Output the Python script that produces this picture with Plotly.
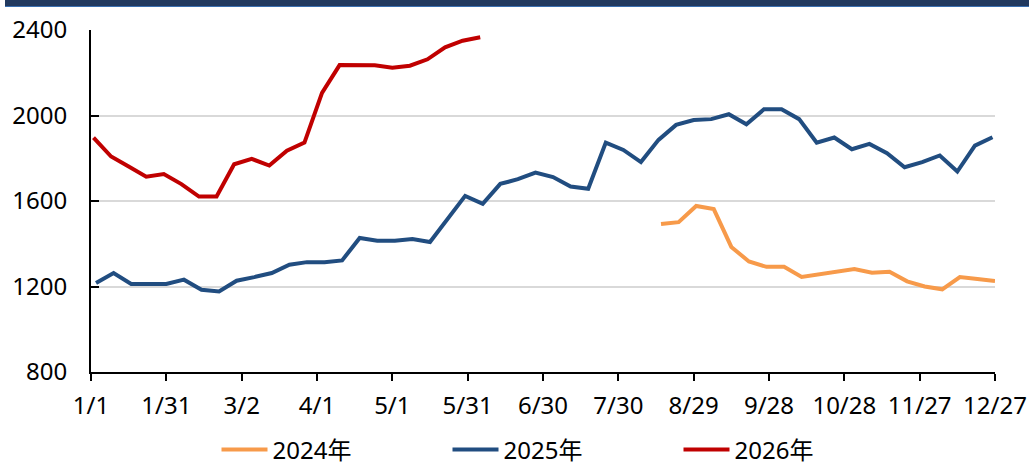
import pandas as pd
import plotly.graph_objects as go

# Weekly (Friday) observations, plotted on a shared Jan–Dec axis (2025 calendar)
start_2024 = "2025-08-16"
start_2025 = "2025-01-03"
start_2026 = "2025-01-02"

values_2024 = [1492, 1501, 1577, 1562, 1385, 1317, 1292, 1292, 1245, 1256,
               1268, 1282, 1264, 1269, 1224, 1200, 1187, 1244, 1235, 1226]

values_2025 = [1216, 1263, 1212, 1212, 1212, 1232, 1185, 1177, 1227, 1244,
               1263, 1302, 1314, 1314, 1322, 1427, 1414, 1414, 1422, 1408,
               1516, 1624, 1587, 1680, 1702, 1733, 1712, 1668, 1657, 1873,
               1839, 1782, 1886, 1956, 1979, 1983, 2006, 1959, 2029, 2029,
               1983, 1873, 1897, 1842, 1867, 1824, 1758, 1782, 1813, 1738,
               1859, 1898]

values_2026 = [1897, 1808, 1761, 1714, 1726, 1679, 1621, 1621, 1772, 1797,
               1766, 1835, 1873, 2106, 2236, 2236, 2235, 2224, 2233, 2263,
               2319, 2350, 2366]

tick_labels = ["1/1", "1/31", "3/2", "4/1", "5/1", "5/31", "6/30",
               "7/30", "8/29", "9/28", "10/28", "11/27", "12/27"]
y_ticks = [800, 1200, 1600, 2000, 2400]

series = [
    ("2024年", start_2024, values_2024, "#F79A4A"),
    ("2025年", start_2025, values_2025, "#214D80"),
    ("2026年", start_2026, values_2026, "#C00000"),
]

FONT = "Noto Sans, Noto Sans CJK SC, sans-serif"
FS = 24

fig = go.Figure()
for name, start, vals, color in series:
    x = pd.date_range(start, periods=len(vals), freq="7D")
    fig.add_trace(go.Scatter(
        x=x, y=vals, name=name, mode="lines",
        line=dict(color=color, width=4),
    ))

tick_vals = pd.date_range("2025-01-01", periods=len(tick_labels), freq="30D")

fig.update_layout(
    width=1029, height=467,
    margin=dict(l=91, r=34, t=30, b=95, autoexpand=False),
    paper_bgcolor="white", plot_bgcolor="white",
    font=dict(family=FONT, size=FS, color="#000000"),
    showlegend=True,
    legend=dict(
        orientation="h", x=0.5 + 20 / 904, xanchor="center",
        yref="container", y=17 / 467, yanchor="middle",
        font=dict(size=FS, family=FONT), itemwidth=46,
        entrywidth=170, entrywidthmode="pixels",
        bgcolor="rgba(0,0,0,0)", borderwidth=0,
    ),
    xaxis=dict(
        type="date", range=["2025-01-01", "2025-12-27"],
        tickvals=tick_vals, ticktext=tick_labels,
        showgrid=False, zeroline=False, automargin=False,
        showline=True, linecolor="#000000", linewidth=2,
        ticks="outside", ticklen=7, tickwidth=2, tickcolor="#000000",
        tickfont=dict(size=FS), ticklabelstandoff=4,
    ),
    yaxis=dict(
        range=[800, 2400], tickvals=y_ticks,
        showgrid=True, gridcolor="#D9D9D9", gridwidth=1.5,
        zeroline=False, automargin=False,
        showline=True, linecolor="#000000", linewidth=2,
        ticks="inside", ticklen=8, tickwidth=2, tickcolor="#000000",
        tickfont=dict(size=FS), ticklabelstandoff=17,
    ),
    shapes=[
        # header band across the top of the page
        dict(type="rect", xref="paper", yref="paper",
             x0=(5 - 91) / 904, x1=(1029 - 91) / 904,
             y0=1 + 23 / 342, y1=1 + 30 / 342,
             fillcolor="#21395F", line=dict(width=0), layer="above"),
        dict(type="line", xref="paper", yref="paper",
             x0=(5 - 91) / 904, x1=(1029 - 91) / 904,
             y0=1 + 23.5 / 342, y1=1 + 23.5 / 342,
             line=dict(color="#3A6FB0", width=1), layer="above"),
    ],
)

fig.write_html("out.html")
